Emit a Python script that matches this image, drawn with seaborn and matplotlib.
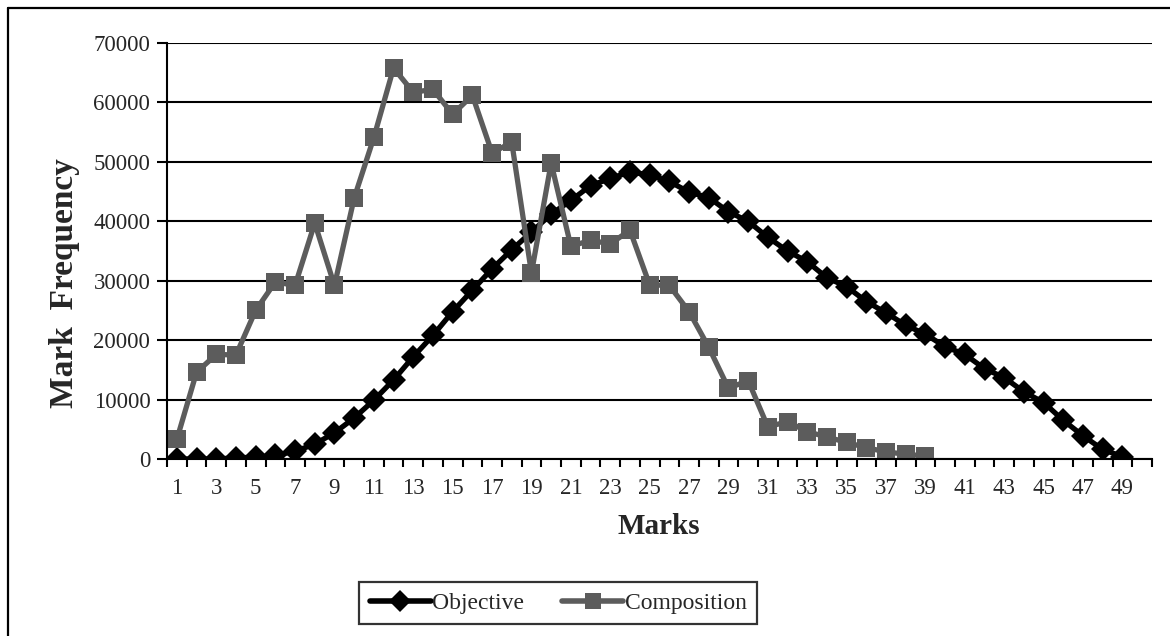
import matplotlib
matplotlib.use("Agg")
import matplotlib.pyplot as plt
import seaborn as sns
import pandas as pd
import numpy as np
from matplotlib.ticker import FixedLocator
from matplotlib.lines import Line2D

marks = list(range(1, 50))
objective = [0, 0, 0, 200, 300, 600, 1300, 2500, 4400, 6900, 9900, 13300, 17200, 20800,
             24800, 28400, 32000, 35200, 38200, 41200, 43500, 46000, 47200, 48300, 47800,
             46700, 44900, 44000, 41600, 40000, 37300, 35000, 33200, 30500, 29000, 26500,
             24600, 22500, 21000, 18900, 17600, 15200, 13700, 11300, 9500, 6500, 3900, 1600, 400]
composition = [3300, 14600, 17600, 17500, 25000, 29800, 29200, 39700, 29200, 43900, 54100,
               65800, 61700, 62200, 58000, 61200, 51500, 53300, 31300, 49800, 35800, 36800,
               36200, 38500, 29300, 29200, 24800, 18800, 11900, 13200, 5400, 6300, 4600,
               3700, 2800, 1900, 1200, 800, 500]
series_names = ["Objective", "Composition"]

df = pd.concat([
    pd.DataFrame({"Marks": marks, "Freq": objective, "Series": series_names[0]}),
    pd.DataFrame({"Marks": marks[:len(composition)], "Freq": composition, "Series": series_names[1]}),
])

sns.set_theme(style="white")
plt.rcParams['font.family'] = ['Liberation Serif', 'DejaVu Serif']

W, H = 1170, 636
fig = plt.figure(figsize=(W / 100, H / 100), dpi=100)
ax = fig.add_axes([167 / W, 1 - 459 / H, (1152 - 167) / W, (459 - 43) / H])

sns.lineplot(data=df, x="Marks", y="Freq", hue="Series", style="Series",
             markers={"Objective": "D", "Composition": "s"}, dashes=False,
             palette={"Objective": "black", "Composition": "#5c5c5c"},
             linewidth=3.8, markersize=12, markeredgewidth=0, ax=ax, legend=False)
lines = ax.get_lines()
lines[0].set_markersize(12.5)
lines[1].set_markersize(13.5)

ax.set_xlim(0.5, 50.5)
ax.set_ylim(0, 70000)
ax.set_yticks(np.arange(0, 70001, 10000))
ax.yaxis.grid(True, color="black", linewidth=1.5)
ax.set_axisbelow(True)
ax.xaxis.set_major_locator(FixedLocator(marks[::2]))
ax.set_xticklabels([str(m) for m in marks[::2]])
ax.xaxis.set_minor_locator(FixedLocator(np.arange(0.5, 51, 1)))
ax.tick_params(axis="x", which="major", length=0, labelsize=16.5, pad=14)
ax.tick_params(axis="x", which="minor", length=6, width=1.5, color="black", direction="out", bottom=True)
ax.tick_params(axis="y", which="major", length=7, width=1.5, color="black", direction="out",
               labelsize=16.5, left=True, pad=5)

for s in ["top", "right"]:
    ax.spines[s].set_visible(False)
for s in ["left", "bottom"]:
    ax.spines[s].set_color("black")
    ax.spines[s].set_linewidth(1.5)

ax.set_xlabel("")
ax.set_ylabel("")
fig.text(659 / W, 1 - 526 / H, "Marks", fontsize=21, fontweight="bold", ha="center", va="center")
fig.text(64 / W, 1 - 283 / H, "Mark  Frequency", fontsize=24, fontweight="bold",
         rotation=90, ha="center", va="center")

handles = [Line2D([], [], color="black", marker="D", markersize=11, linewidth=4, markeredgewidth=0),
           Line2D([], [], color="#5c5c5c", marker="s", markersize=12, linewidth=4, markeredgewidth=0)]
leg = fig.legend(handles, series_names, loc="center", bbox_to_anchor=(558 / W, 1 - 603 / H),
                 ncol=2, frameon=True, fontsize=17, handlelength=2.6, handletextpad=0.05,
                 columnspacing=1.6, fancybox=False, borderpad=0.45)
leg.get_frame().set_edgecolor("black")
leg.get_frame().set_linewidth(1.6)

# figure border (top and left visible, as in the cropped reference)
fig.add_artist(Line2D([8 / W, 1.0], [1 - 8 / H, 1 - 8 / H], transform=fig.transFigure,
                      color="black", linewidth=1.6))
fig.add_artist(Line2D([8 / W, 8 / W], [0.0, 1 - 8 / H], transform=fig.transFigure,
                      color="black", linewidth=1.6))

fig.savefig("out.png", dpi=100)
